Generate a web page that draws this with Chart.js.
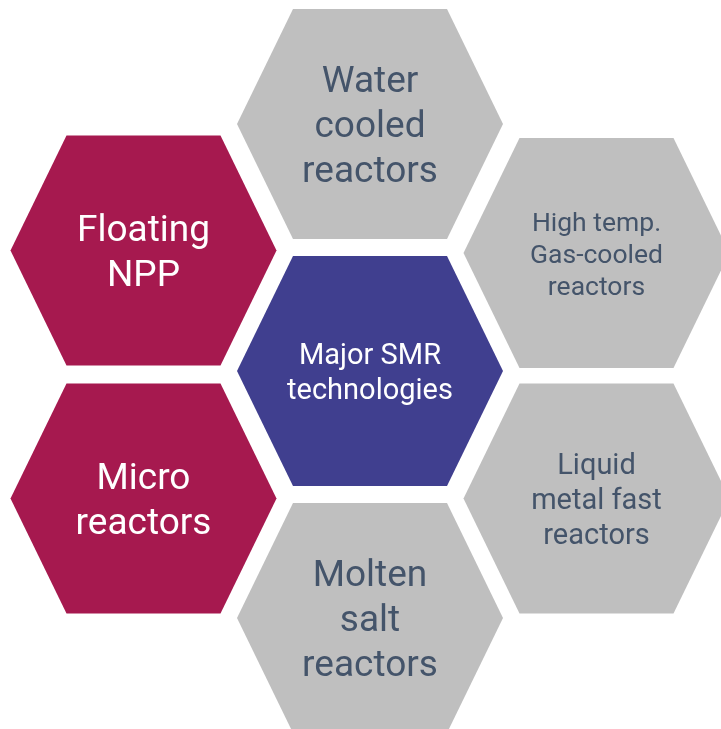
<!DOCTYPE html>
<html>
<head>
<meta charset="utf-8">
<script src="https://cdn.jsdelivr.net/npm/chart.js@4/dist/chart.umd.min.js"></script>
<style>
  html, body { margin: 0; padding: 0; background: #fff; }
  #wrap { width: 721px; height: 729px; }
</style>
</head>
<body>
<div id="wrap"><canvas id="hexChart"></canvas></div>
<script>
// Categories (one per hexagon), lines as shown in the picture
const labels = [
  ['Water', 'cooled', 'reactors'],
  ['Floating', 'NPP'],
  ['Major SMR', 'technologies'],
  ['High temp.', 'Gas-cooled', 'reactors'],
  ['Micro', 'reactors'],
  ['Liquid', 'metal fast', 'reactors'],
  ['Molten', 'salt', 'reactors']
];
// Group of each category: 'core' = centre, 'alt' = red, 'main' = grey
const groups = ['main', 'alt', 'core', 'main', 'alt', 'main', 'main'];

// Layout of the honeycomb (centre of each cell, in canvas units)
const cellX = [370, 143.5, 370, 596.5, 143.5, 596.5, 370];
const cellY = [124, 250.5, 371, 253, 498.5, 498.5, 618];

// Cell shape
const HALF_W = 133;   // centre to left/right corner
const HALF_H = 115;   // centre to top/bottom edge
const HALF_TOP = 77;  // half length of top edge

const fillColors = { core: '#403f8f', alt: '#a6194f', main: '#bfbfbf' };
const textColors = { core: '#ffffff', alt: '#ffffff', main: '#44546a' };
const fontSizes = [37, 37, 29, 26.5, 37, 29, 37];
const lineHeights = [45, 45, 35, 32, 45, 35, 45];

function hexPoints(cx, cy) {
  return [
    { x: cx - HALF_W, y: cy },
    { x: cx - HALF_TOP, y: cy - HALF_H },
    { x: cx + HALF_TOP, y: cy - HALF_H },
    { x: cx + HALF_W, y: cy },
    { x: cx + HALF_TOP, y: cy + HALF_H },
    { x: cx - HALF_TOP, y: cy + HALF_H },
    { x: cx - HALF_W, y: cy }
  ];
}

const datasets = labels.map((lab, i) => ({
  label: lab.join(' '),
  data: hexPoints(cellX[i], cellY[i]),
  showLine: true,
  fill: 'shape',
  backgroundColor: fillColors[groups[i]],
  borderWidth: 0,
  borderColor: 'rgba(0,0,0,0)',
  pointRadius: 0,
  pointHoverRadius: 0,
  tension: 0
}));

// Labels drawn at each cell centre through the chart scales
const cellText = {
  id: 'cellText',
  afterDatasetsDraw(chart) {
    const ctx = chart.ctx;
    const xs = chart.scales.x, ys = chart.scales.y;
    ctx.save();
    ctx.textAlign = 'center';
    ctx.textBaseline = 'alphabetic';
    labels.forEach((lines, i) => {
      const px = xs.getPixelForValue(cellX[i]);
      const py = ys.getPixelForValue(cellY[i]);
      const size = fontSizes[i];
      const lh = lineHeights[i];
      ctx.font = size + 'px Roboto';
      ctx.fillStyle = textColors[groups[i]];
      lines.forEach((t, j) => {
        const y = py + (j - (lines.length - 1) / 2) * lh + size * 0.36;
        ctx.fillText(t, px, y);
      });
    });
    ctx.restore();
  }
};

new Chart(document.getElementById('hexChart').getContext('2d'), {
  type: 'scatter',
  data: { datasets: datasets },
  options: {
    responsive: true,
    maintainAspectRatio: false,
    animation: false,
    layout: { padding: 0 },
    plugins: {
      legend: { display: false },
      tooltip: { enabled: false }
    },
    events: [],
    scales: {
      x: { type: 'linear', min: 0, max: 721, display: false },
      y: { type: 'linear', min: 0, max: 729, reverse: true, display: false }
    }
  },
  plugins: [cellText]
});
</script>
</body>
</html>
